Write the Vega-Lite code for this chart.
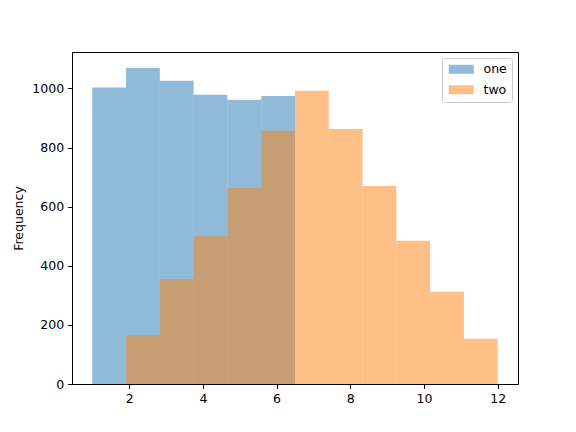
{
  "$schema": "https://vega.github.io/schema/vega-lite/v6.json",
  "width": 446,
  "height": 332,
  "autosize": {"type": "none"},
  "padding": {"left": 72, "top": 52, "right": 58, "bottom": 48},
  "config": {
    "font": "DejaVu Sans",
    "view": {"stroke": "black", "strokeWidth": 1},
    "axis": {
      "grid": false,
      "domainColor": "black",
      "tickColor": "black",
      "tickSize": 4.4,
      "labelPadding": 4,
      "labelFontSize": 12.5,
      "labelColor": "black",
      "titleFontSize": 12.5,
      "titleFontWeight": "normal",
      "titleColor": "black"
    }
  },
  "data": {
    "values": [
      {"series": "one", "start": 1.0, "end": 1.9167, "count": 1003},
      {"series": "one", "start": 1.9167, "end": 2.8333, "count": 1070},
      {"series": "one", "start": 2.8333, "end": 3.75, "count": 1026},
      {"series": "one", "start": 3.75, "end": 4.6667, "count": 979},
      {"series": "one", "start": 4.6667, "end": 5.5833, "count": 962},
      {"series": "one", "start": 5.5833, "end": 6.5, "count": 975},
      {"series": "two", "start": 1.9167, "end": 2.8333, "count": 165},
      {"series": "two", "start": 2.8333, "end": 3.75, "count": 355},
      {"series": "two", "start": 3.75, "end": 4.6667, "count": 500},
      {"series": "two", "start": 4.6667, "end": 5.5833, "count": 663},
      {"series": "two", "start": 5.5833, "end": 6.5, "count": 857},
      {"series": "two", "start": 6.5, "end": 7.4167, "count": 992},
      {"series": "two", "start": 7.4167, "end": 8.3333, "count": 863},
      {"series": "two", "start": 8.3333, "end": 9.25, "count": 670},
      {"series": "two", "start": 9.25, "end": 10.1667, "count": 485},
      {"series": "two", "start": 10.1667, "end": 11.0833, "count": 312},
      {"series": "two", "start": 11.0833, "end": 12.0, "count": 153}
    ]
  },
  "mark": {"type": "bar", "opacity": 0.5, "strokeWidth": 0},
  "encoding": {
    "x": {
      "field": "start",
      "type": "quantitative",
      "scale": {"domain": [0.45, 12.55], "nice": false, "zero": false},
      "axis": {"values": [2, 4, 6, 8, 10, 12], "title": null}
    },
    "x2": {"field": "end"},
    "y": {
      "field": "count",
      "type": "quantitative",
      "stack": null,
      "scale": {"domain": [0, 1123.5], "nice": false, "padding": 0},
      "axis": {"values": [0, 200, 400, 600, 800, 1000], "format": "d", "title": "Frequency", "titlePadding": 6}
    },
    "y2": {"datum": 0},
    "color": {
      "field": "series",
      "type": "nominal",
      "scale": {"domain": ["one", "two"], "range": ["#1f77b4", "#ff7f0e"]},
      "legend": {
        "title": null,
        "orient": "top-right",
        "offset": 6,
        "symbolType": "M-2.78,-1H2.78V1H-2.78Z",
        "symbolSize": 81,
        "symbolOffset": 8,
        "symbolOpacity": 0.5,
        "symbolStrokeWidth": 0,
        "labelFontSize": 12.5,
        "labelColor": "black",
        "labelOffset": 16,
        "strokeColor": "#cccccc",
        "fillColor": "white",
        "cornerRadius": 3,
        "padding": 5,
        "rowPadding": 7.5
      }
    },
    "order": {"field": "series"}
  }
}
